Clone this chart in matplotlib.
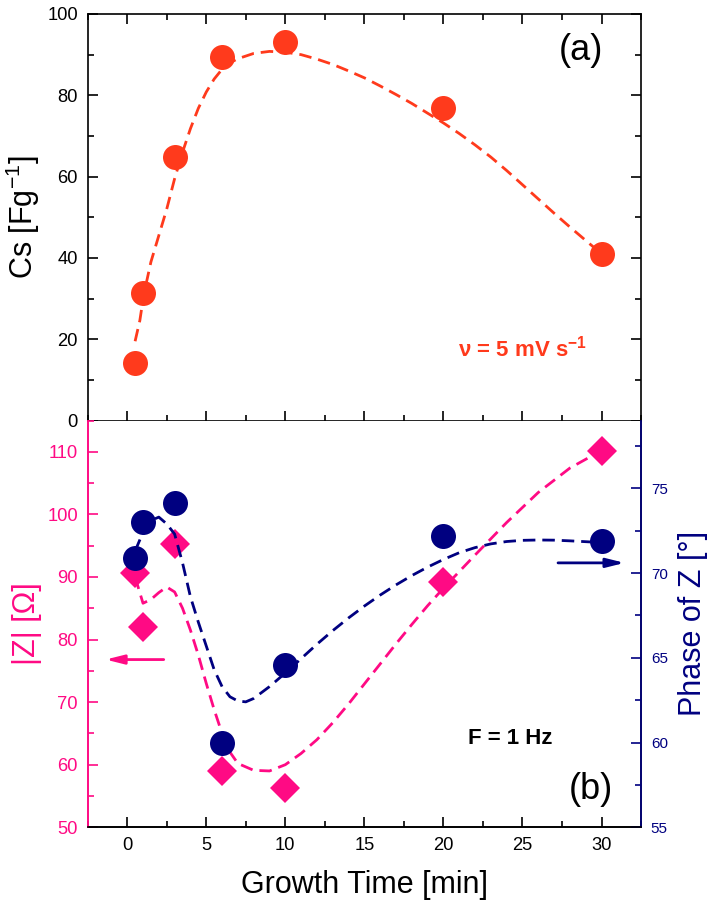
import matplotlib

matplotlib.use("Agg")
import matplotlib.pyplot as plt
from matplotlib.ticker import MultipleLocator

plt.rcParams["font.family"] = ["Liberation Sans", "DejaVu Sans"]
plt.rcParams["mathtext.fontset"] = "custom"
plt.rcParams["mathtext.rm"] = "Liberation Sans"
plt.rcParams["mathtext.it"] = "Liberation Sans:italic"
plt.rcParams["mathtext.bf"] = "Liberation Sans:bold"

# growth times [min]
t = [0.5, 1, 3, 6, 10, 20, 30]

# (a) specific capacitance
cs = [14.2, 31.4, 64.7, 89.5, 93.2, 76.9, 40.9]
cs_fit_t = [0.5, 0.8, 1.05, 1.5, 2.0, 2.5, 3.0, 3.5, 4.0, 4.5, 5.0, 5.5, 6.0, 6.5, 7.0,
            8.0, 9.0, 10.0, 11.0, 12.0, 13.0, 14.0, 15.0, 16.0, 17.0, 18.0, 19.0, 20.0,
            21.0, 22.0, 23.0, 24.0, 25.0, 26.0, 27.0, 28.0, 29.0, 30.0]
cs_fit = [19.5, 24.6, 31.0, 39.0, 45.5, 52.0, 59.5, 66.0, 71.8, 76.8, 80.8, 84.0, 86.4,
          88.0, 89.0, 90.3, 90.8, 90.6, 90.0, 88.9, 87.6, 86.0, 84.3, 82.3, 80.2, 78.0,
          75.6, 73.2, 70.6, 67.8, 64.8, 61.5, 58.0, 54.5, 51.0, 47.6, 44.3, 41.0]

# (b) impedance modulus and phase at 1 Hz
z_mod = [90.6, 82.0, 95.2, 59.0, 56.2, 89.2, 110.1]
z_phase = [70.9, 73.0, 74.15, 60.0, 64.6, 72.2, 71.9]
zmod_fit_t = [0.5, 1.0, 1.5, 2.0, 2.5, 3.0, 3.5, 4.0, 4.5, 5.0, 5.5, 6.0, 6.5, 7.0, 8.0,
              9.0, 10.0, 11.0, 12.0, 13.0, 14.0, 15.0, 16.0, 17.0, 18.0, 19.0, 20.0,
              22.0, 24.0, 26.0, 28.0, 30.0]
zmod_fit = [90.0, 85.8, 86.4, 87.5, 88.4, 87.6, 85.0, 81.5, 77.5, 73.0, 68.8, 65.0, 62.0,
            60.2, 59.1, 59.0, 60.0, 61.8, 64.0, 66.7, 69.7, 72.9, 76.1, 79.3, 82.4, 85.4,
            88.2, 93.5, 98.7, 103.5, 107.4, 110.2]
phase_fit_t = [0.5, 1.0, 1.5, 2.0, 2.5, 3.0, 3.5, 4.0, 4.5, 5.0, 5.5, 6.0, 6.5, 7.0, 7.5,
               8.0, 9.0, 10.0, 11.0, 12.0, 13.0, 14.0, 15.0, 16.0, 17.0, 18.0, 19.0,
               20.0, 21.0, 22.0, 23.0, 24.0, 25.0, 26.0, 27.0, 28.0, 29.0, 30.0]
phase_fit = [71.3, 72.4, 73.1, 73.3, 72.9, 72.3, 70.6, 68.6, 67.1, 65.7, 64.3, 63.3, 62.7,
             62.45, 62.4, 62.6, 63.3, 64.1, 64.95, 65.8, 66.6, 67.35, 68.05, 68.7, 69.3,
             69.85, 70.35, 70.8, 71.2, 71.5, 71.72, 71.86, 71.93, 71.95, 71.94, 71.9,
             71.85, 71.8]

red = "#FF3A1C"
pink = "#FF0A84"
navy = "#000080"
dash = (0, (4.5, 2.5))

fig = plt.figure(figsize=(7.18, 9.09), dpi=100)
ax1 = fig.add_axes([0.1221, 0.5374, 0.7707, 0.4472])
ax2 = fig.add_axes([0.1221, 0.0899, 0.7707, 0.4475])
ax3 = ax2.twinx()

# --- panel (a)
ax1.plot(t, cs, "o", color=red, ms=18, mew=0, zorder=2)
ax1.plot(cs_fit_t, cs_fit, color=red, lw=2, ls=dash, zorder=3)
ax1.set_xlim(-2.5, 32.5)
ax1.set_ylim(0, 100)
ax1.xaxis.set_major_locator(MultipleLocator(5))
ax1.xaxis.set_minor_locator(MultipleLocator(2.5))
ax1.yaxis.set_major_locator(MultipleLocator(20))
ax1.yaxis.set_minor_locator(MultipleLocator(10))
ax1.tick_params(which="both", direction="in", top=True, right=True, width=1.2,
                labelsize=13.2, pad=7, labelbottom=False)
ax1.tick_params(which="major", length=7)
ax1.tick_params(which="minor", length=4)
for s in ax1.spines.values():
    s.set_linewidth(1.2)
ax1.set_ylabel("Cs [Fg$^{-1}$]", fontsize=22)
ax1.yaxis.set_label_coords(-0.083, 0.5)
ax1.text(28.7, 91.1, "(a)", fontsize=26, ha="center", va="center")
ax1.text(25.0, 17.7, "ν = 5 mV s$^{\\mathbf{-1}}$", fontsize=16, fontweight="bold",
         color=red, ha="center", va="center")

# --- panel (b)
ax2.plot(t, z_mod, "D", color=pink, ms=15.5, mew=0, zorder=2)
ax2.plot(zmod_fit_t, zmod_fit, color=pink, lw=2, ls=dash, zorder=3)
ax3.plot(t, z_phase, "o", color=navy, ms=18, mew=0, zorder=2)
ax3.plot(phase_fit_t, phase_fit, color=navy, lw=2, ls=dash, zorder=3)

ax2.set_xlim(-2.5, 32.5)
ax2.set_ylim(50, 115)
ax3.set_ylim(55, 79)
ax2.xaxis.set_major_locator(MultipleLocator(5))
ax2.xaxis.set_minor_locator(MultipleLocator(2.5))
ax2.yaxis.set_major_locator(MultipleLocator(10))
ax2.yaxis.set_minor_locator(MultipleLocator(5))
ax3.yaxis.set_major_locator(MultipleLocator(5))
ax3.yaxis.set_minor_locator(MultipleLocator(2.5))

ax2.tick_params(which="both", direction="in", width=1.2, labelsize=13.2, pad=7)
ax2.tick_params(which="major", length=7)
ax2.tick_params(which="minor", length=4)
ax2.tick_params(axis="y", which="both", colors=pink)
ax3.tick_params(which="both", direction="in", width=1.2, labelsize=11, pad=7, colors=navy)
ax3.tick_params(which="major", length=7)
ax3.tick_params(which="minor", length=4)

for s in ax2.spines.values():
    s.set_linewidth(1.2)
for s in ax3.spines.values():
    s.set_linewidth(1.2)
ax2.spines["left"].set_color(pink)
ax3.spines["left"].set_color(pink)
ax3.spines["right"].set_color(navy)
ax2.spines["top"].set_visible(False)
ax3.spines["top"].set_visible(False)

ax2.set_ylabel("|Z| [Ω]", fontsize=22, color=pink)
ax2.yaxis.set_label_coords(-0.083, 0.5)
ax3.set_ylabel("Phase of Z [°]", fontsize=22, color=navy)
ax3.yaxis.set_label_coords(1.067, 0.5)
ax2.set_xlabel("Growth Time [min]", fontsize=22)
ax2.xaxis.set_label_coords(0.5, -0.105)

ax2.annotate("", xy=(-1.37, 76.8), xytext=(2.31, 76.8),
             arrowprops=dict(arrowstyle="-|>,head_length=0.6,head_width=0.15",
                             color=pink, lw=2, mutation_scale=18, shrinkA=0, shrinkB=0))
ax3.annotate("", xy=(31.46, 70.6), xytext=(27.25, 70.6),
             arrowprops=dict(arrowstyle="-|>,head_length=0.6,head_width=0.15",
                             color=navy, lw=2, mutation_scale=18, shrinkA=0, shrinkB=0))
ax3.text(24.2, 60.25, "F = 1 Hz", fontsize=16, fontweight="bold", ha="center", va="center")
ax3.text(29.3, 57.2, "(b)", fontsize=26, ha="center", va="center")

fig.savefig("out.png", dpi=100)
